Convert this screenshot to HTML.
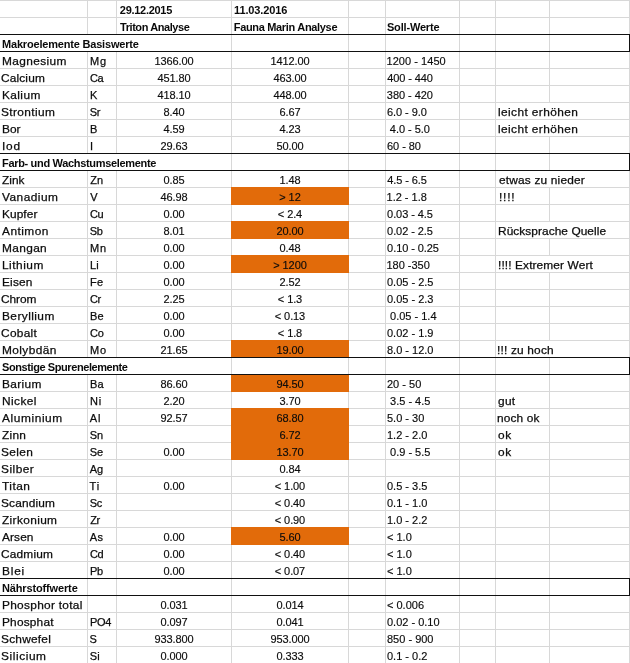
<!DOCTYPE html>
<html lang="de"><head><meta charset="utf-8"><title>Wasseranalyse</title>
<style>
html,body{margin:0;padding:0;background:#fff;}
body{width:630px;height:663px;overflow:hidden;position:relative;font-family:"Liberation Sans",sans-serif;font-size:11px;color:#0a0a0a;}
#s{position:absolute;left:0;top:0;width:630px;height:663px;overflow:hidden;background:#fff;}
.h{position:absolute;left:0;width:630px;height:1px;background:#d8d8d8;}
.v{position:absolute;width:1px;background:#d8d8d8;}
.k{position:absolute;background:#111;}
.o{position:absolute;background:#e26b0a;}
.t{position:absolute;white-space:pre;height:17px;line-height:17px;letter-spacing:0.3px;-webkit-text-stroke:0.25px #111;}
.w{transform:scaleX(1.08);transform-origin:0 50%;}
.n{letter-spacing:-0.1px;text-align:center;-webkit-text-stroke-width:0.15px;}
.f{letter-spacing:0;-webkit-text-stroke-width:0.15px;}
.b{font-weight:bold;letter-spacing:0.1px;-webkit-text-stroke:0;}
</style></head>
<body><div id="s">
<div class="h" style="top:0px"></div><div class="h" style="top:17px"></div><div class="h" style="top:34px"></div><div class="h" style="top:51px"></div><div class="h" style="top:68px"></div><div class="h" style="top:85px"></div><div class="h" style="top:102px"></div><div class="h" style="top:119px"></div><div class="h" style="top:136px"></div><div class="h" style="top:153px"></div><div class="h" style="top:170px"></div><div class="h" style="top:187px"></div><div class="h" style="top:204px"></div><div class="h" style="top:221px"></div><div class="h" style="top:238px"></div><div class="h" style="top:255px"></div><div class="h" style="top:272px"></div><div class="h" style="top:289px"></div><div class="h" style="top:306px"></div><div class="h" style="top:323px"></div><div class="h" style="top:340px"></div><div class="h" style="top:357px"></div><div class="h" style="top:374px"></div><div class="h" style="top:391px"></div><div class="h" style="top:408px"></div><div class="h" style="top:425px"></div><div class="h" style="top:442px"></div><div class="h" style="top:459px"></div><div class="h" style="top:476px"></div><div class="h" style="top:493px"></div><div class="h" style="top:510px"></div><div class="h" style="top:527px"></div><div class="h" style="top:544px"></div><div class="h" style="top:561px"></div><div class="h" style="top:578px"></div><div class="h" style="top:595px"></div><div class="h" style="top:612px"></div><div class="h" style="top:629px"></div><div class="h" style="top:646px"></div><div class="h" style="top:663px"></div>
<div class="v" style="left:87px;top:0px;height:35px"></div><div class="v" style="left:87px;top:51px;height:103px"></div><div class="v" style="left:87px;top:170px;height:188px"></div><div class="v" style="left:87px;top:374px;height:290px"></div><div class="v" style="left:116px;top:0px;height:35px"></div><div class="v" style="left:116px;top:51px;height:103px"></div><div class="v" style="left:116px;top:170px;height:188px"></div><div class="v" style="left:116px;top:374px;height:290px"></div><div class="v" style="left:231px;top:0px;height:664px"></div><div class="v" style="left:348px;top:0px;height:664px"></div><div class="v" style="left:385px;top:0px;height:664px"></div><div class="v" style="left:459px;top:0px;height:664px"></div><div class="v" style="left:495px;top:0px;height:664px"></div><div class="v" style="left:549px;top:0px;height:103px"></div><div class="v" style="left:549px;top:136px;height:35px"></div><div class="v" style="left:549px;top:187px;height:35px"></div><div class="v" style="left:549px;top:238px;height:18px"></div><div class="v" style="left:549px;top:272px;height:69px"></div><div class="v" style="left:549px;top:357px;height:307px"></div><div class="v" style="left:629px;top:0px;height:664px"></div>
<div class="o" style="left:231px;top:187px;width:118px;height:18px"></div><div class="o" style="left:231px;top:221px;width:118px;height:18px"></div><div class="o" style="left:231px;top:255px;width:118px;height:18px"></div><div class="o" style="left:231px;top:340px;width:118px;height:18px"></div><div class="o" style="left:231px;top:374px;width:118px;height:18px"></div><div class="o" style="left:231px;top:408px;width:118px;height:18px"></div><div class="o" style="left:231px;top:425px;width:118px;height:18px"></div><div class="o" style="left:231px;top:442px;width:118px;height:18px"></div><div class="o" style="left:231px;top:527px;width:118px;height:18px"></div>
<div class="k" style="left:0;top:34px;width:630px;height:1px"></div><div class="k" style="left:0;top:51px;width:630px;height:1px"></div><div class="k" style="left:629px;top:34px;width:1px;height:18px"></div><div class="k" style="left:0;top:153px;width:630px;height:1px"></div><div class="k" style="left:0;top:170px;width:630px;height:1px"></div><div class="k" style="left:629px;top:153px;width:1px;height:18px"></div><div class="k" style="left:0;top:357px;width:630px;height:1px"></div><div class="k" style="left:0;top:374px;width:630px;height:1px"></div><div class="k" style="left:629px;top:357px;width:1px;height:18px"></div><div class="k" style="left:0;top:578px;width:630px;height:1px"></div><div class="k" style="left:0;top:595px;width:630px;height:1px"></div><div class="k" style="left:629px;top:578px;width:1px;height:18px"></div>
<div class="t b" id="c0_2" style="left:119.82px;top:2px;letter-spacing:-0.288px;">29.12.2015</div><div class="t b" id="c0_3" style="left:234px;top:2px;letter-spacing:-0.122px;">11.03.2016</div>
<div class="t b" id="c1_2" style="left:119.96px;top:19px;letter-spacing:-0.424px;">Triton Analyse</div><div class="t b" id="c1_3" style="left:233.74px;top:19px;letter-spacing:-0.325px;">Fauna Marin Analyse</div><div class="t b" id="c1_5" style="left:386.94px;top:19px;letter-spacing:-0.172px;">Soll-Werte</div>
<div class="t b" id="c2_0" style="left:2px;top:36px;letter-spacing:-0.19px;">Makroelemente Basiswerte</div>
<div class="t w" id="c3_0" style="left:1.76px;top:53px;letter-spacing:0.343px;">Magnesium</div><div class="t " id="c3_1" style="left:90px;top:53px;letter-spacing:0.75px;">Mg</div><div class="t n" id="c3_2" style="left:117px;top:53px;width:114px;">1366.00</div><div class="t n" id="c3_3" style="left:232px;top:53px;width:116px;">1412.00</div><div class="t f" id="c3_5" style="left:386.53px;top:53px;letter-spacing:0.047px;">1200 - 1450</div>
<div class="t w" id="c4_0" style="left:0.8px;top:70px;letter-spacing:0.137px;">Calcium</div><div class="t " id="c4_1" style="left:89.9px;top:70px;letter-spacing:-0.3px;">Ca</div><div class="t n" id="c4_2" style="left:117px;top:70px;width:114px;">451.80</div><div class="t n" id="c4_3" style="left:232px;top:70px;width:116px;">463.00</div><div class="t f" id="c4_5" style="left:387.22px;top:70px;letter-spacing:-0.118px;">400 - 440</div>
<div class="t w" id="c5_0" style="left:1.76px;top:87px;letter-spacing:0.368px;">Kalium</div><div class="t " id="c5_1" style="left:90px;top:87px;">K</div><div class="t n" id="c5_2" style="left:117px;top:87px;width:114px;">418.10</div><div class="t n" id="c5_3" style="left:232px;top:87px;width:116px;">448.00</div><div class="t f" id="c5_5" style="left:386.84px;top:87px;letter-spacing:-0.052px;">380 - 420</div>
<div class="t w" id="c6_0" style="left:1.04px;top:104px;letter-spacing:0.353px;">Strontium</div><div class="t " id="c6_1" style="left:89.73px;top:104px;letter-spacing:-0.3px;">Sr</div><div class="t n" id="c6_2" style="left:117px;top:104px;width:114px;">8.40</div><div class="t n" id="c6_3" style="left:232px;top:104px;width:116px;">6.67</div><div class="t f" id="c6_5" style="left:386.94px;top:104px;letter-spacing:-0.055px;">6.0 - 9.0</div><div class="t w" id="c6_7" style="left:497.84px;top:104px;letter-spacing:0.372px;">leicht erhöhen</div>
<div class="t w" id="c7_0" style="left:1.52px;top:121px;letter-spacing:-0.006px;">Bor</div><div class="t " id="c7_1" style="left:90px;top:121px;">B</div><div class="t n" id="c7_2" style="left:117px;top:121px;width:114px;">4.59</div><div class="t n" id="c7_3" style="left:232px;top:121px;width:116px;">4.23</div><div class="t f" id="c7_5" style="left:386.82px;top:121px;letter-spacing:-0.034px;"> 4.0 - 5.0</div><div class="t w" id="c7_7" style="left:497.84px;top:121px;letter-spacing:0.372px;">leicht erhöhen</div>
<div class="t w" id="c8_0" style="left:1.76px;top:138px;letter-spacing:0.75px;">Iod</div><div class="t " id="c8_1" style="left:90px;top:138px;">I</div><div class="t n" id="c8_2" style="left:117px;top:138px;width:114px;">29.63</div><div class="t n" id="c8_3" style="left:232px;top:138px;width:116px;">50.00</div><div class="t f" id="c8_5" style="left:387.06px;top:138px;letter-spacing:-0.064px;">60 - 80</div>
<div class="t b" id="c9_0" style="left:2px;top:155px;letter-spacing:-0.323px;">Farb- und Wachstumselemente</div>
<div class="t w" id="c10_0" style="left:2.22px;top:172px;letter-spacing:0.025px;">Zink</div><div class="t " id="c10_1" style="left:90.25px;top:172px;letter-spacing:-0.093px;">Zn</div><div class="t n" id="c10_2" style="left:117px;top:172px;width:114px;">0.85</div><div class="t n" id="c10_3" style="left:232px;top:172px;width:116px;">1.48</div><div class="t f" id="c10_5" style="left:387.29px;top:172px;letter-spacing:-0.098px;">4.5 - 6.5</div><div class="t w" id="c10_7" style="left:498.81px;top:172px;letter-spacing:0.168px;">etwas zu nieder</div>
<div class="t w" id="c11_0" style="left:2.16px;top:189px;letter-spacing:0.436px;">Vanadium</div><div class="t " id="c11_1" style="left:90.24px;top:189px;">V</div><div class="t n" id="c11_2" style="left:117px;top:189px;width:114px;">46.98</div><div class="t n" id="c11_3" style="left:232px;top:189px;width:116px;">&gt; 12</div><div class="t f" id="c11_5" style="left:386.53px;top:189px;letter-spacing:-0.002px;">1.2 - 1.8</div><div class="t w" id="c11_7" style="left:498.6px;top:189px;letter-spacing:0.75px;">!!!!</div>
<div class="t w" id="c12_0" style="left:1.52px;top:206px;letter-spacing:0.073px;">Kupfer</div><div class="t " id="c12_1" style="left:89.9px;top:206px;letter-spacing:-0.3px;">Cu</div><div class="t n" id="c12_2" style="left:117px;top:206px;width:114px;">0.00</div><div class="t n" id="c12_3" style="left:232px;top:206px;width:116px;">&lt; 2.4</div><div class="t f" id="c12_5" style="left:387.11px;top:206px;letter-spacing:-0.085px;">0.03 - 4.5</div>
<div class="t w" id="c13_0" style="left:2.2px;top:223px;letter-spacing:0.434px;">Antimon</div><div class="t " id="c13_1" style="left:89.81px;top:223px;letter-spacing:-0.3px;">Sb</div><div class="t n" id="c13_2" style="left:117px;top:223px;width:114px;">8.01</div><div class="t n" id="c13_3" style="left:232px;top:223px;width:116px;">20.00</div><div class="t f" id="c13_5" style="left:387.11px;top:223px;letter-spacing:-0.085px;">0.02 - 2.5</div><div class="t w" id="c13_7" style="left:498px;top:223px;letter-spacing:0.058px;">Rücksprache Quelle</div>
<div class="t w" id="c14_0" style="left:1.76px;top:240px;letter-spacing:0.328px;">Mangan</div><div class="t " id="c14_1" style="left:90px;top:240px;letter-spacing:0.75px;">Mn</div><div class="t n" id="c14_2" style="left:117px;top:240px;width:114px;">0.00</div><div class="t n" id="c14_3" style="left:232px;top:240px;width:116px;">0.48</div><div class="t f" id="c14_5" style="left:387.11px;top:240px;letter-spacing:-0.075px;">0.10 - 0.25</div>
<div class="t w" id="c15_0" style="left:1.64px;top:257px;letter-spacing:0.475px;">Lithium</div><div class="t " id="c15_1" style="left:90px;top:257px;letter-spacing:0.121px;">Li</div><div class="t n" id="c15_2" style="left:117px;top:257px;width:114px;">0.00</div><div class="t n" id="c15_3" style="left:232px;top:257px;width:116px;">&gt; 1200</div><div class="t f" id="c15_5" style="left:386.53px;top:257px;letter-spacing:-0.02px;">180 -350</div><div class="t w" id="c15_7" style="left:498.3px;top:257px;letter-spacing:0.103px;">!!!! Extremer Wert</div>
<div class="t w" id="c16_0" style="left:1.76px;top:274px;letter-spacing:0.154px;">Eisen</div><div class="t " id="c16_1" style="left:90px;top:274px;letter-spacing:0.402px;">Fe</div><div class="t n" id="c16_2" style="left:117px;top:274px;width:114px;">0.00</div><div class="t n" id="c16_3" style="left:232px;top:274px;width:116px;">2.52</div><div class="t f" id="c16_5" style="left:387px;top:274px;">0.05 - 2.5</div>
<div class="t w" id="c17_0" style="left:0.8px;top:291px;letter-spacing:-0.05px;">Chrom</div><div class="t " id="c17_1" style="left:89.9px;top:291px;letter-spacing:-0.3px;">Cr</div><div class="t n" id="c17_2" style="left:117px;top:291px;width:114px;">2.25</div><div class="t n" id="c17_3" style="left:232px;top:291px;width:116px;">&lt; 1.3</div><div class="t f" id="c17_5" style="left:387px;top:291px;">0.05 - 2.3</div>
<div class="t w" id="c18_0" style="left:1.76px;top:308px;letter-spacing:0.398px;">Beryllium</div><div class="t " id="c18_1" style="left:90px;top:308px;letter-spacing:0.242px;">Be</div><div class="t n" id="c18_2" style="left:117px;top:308px;width:114px;">0.00</div><div class="t n" id="c18_3" style="left:232px;top:308px;width:116px;">&lt; 0.13</div><div class="t f" id="c18_5" style="left:387px;top:308px;"> 0.05 - 1.4</div>
<div class="t w" id="c19_0" style="left:0.8px;top:325px;letter-spacing:0.279px;">Cobalt</div><div class="t " id="c19_1" style="left:90.04px;top:325px;letter-spacing:-0.3px;">Co</div><div class="t n" id="c19_2" style="left:117px;top:325px;width:114px;">0.00</div><div class="t n" id="c19_3" style="left:232px;top:325px;width:116px;">&lt; 1.8</div><div class="t f" id="c19_5" style="left:387px;top:325px;">0.02 - 1.9</div>
<div class="t w" id="c20_0" style="left:1.76px;top:342px;letter-spacing:0.377px;">Molybdän</div><div class="t " id="c20_1" style="left:90px;top:342px;letter-spacing:0.75px;">Mo</div><div class="t n" id="c20_2" style="left:117px;top:342px;width:114px;">21.65</div><div class="t n" id="c20_3" style="left:232px;top:342px;width:116px;">19.00</div><div class="t f" id="c20_5" style="left:387px;top:342px;">8.0 - 12.0</div><div class="t w" id="c20_7" style="left:497px;top:342px;letter-spacing:0.166px;">!!! zu hoch</div>
<div class="t b" id="c21_0" style="left:2.12px;top:359px;letter-spacing:-0.42px;">Sonstige Spurenelemente</div>
<div class="t w" id="c22_0" style="left:1.52px;top:376px;letter-spacing:0.335px;">Barium</div><div class="t " id="c22_1" style="left:90px;top:376px;letter-spacing:0.072px;">Ba</div><div class="t n" id="c22_2" style="left:117px;top:376px;width:114px;">86.60</div><div class="t n" id="c22_3" style="left:232px;top:376px;width:116px;">94.50</div><div class="t f" id="c22_5" style="left:387px;top:376px;">20 - 50</div>
<div class="t w" id="c23_0" style="left:1.76px;top:393px;letter-spacing:0.376px;">Nickel</div><div class="t " id="c23_1" style="left:90px;top:393px;letter-spacing:0.75px;">Ni</div><div class="t n" id="c23_2" style="left:117px;top:393px;width:114px;">2.20</div><div class="t n" id="c23_3" style="left:232px;top:393px;width:116px;">3.70</div><div class="t f" id="c23_5" style="left:387px;top:393px;"> 3.5 - 4.5</div><div class="t w" id="c23_7" style="left:498.15px;top:393px;letter-spacing:0.27px;">gut</div>
<div class="t w" id="c24_0" style="left:1.76px;top:410px;letter-spacing:0.55px;">Aluminium</div><div class="t " id="c24_1" style="left:89.82px;top:410px;letter-spacing:0.75px;">Al</div><div class="t n" id="c24_2" style="left:117px;top:410px;width:114px;">92.57</div><div class="t n" id="c24_3" style="left:232px;top:410px;width:116px;">68.80</div><div class="t f" id="c24_5" style="left:387px;top:410px;">5.0 - 30</div><div class="t w" id="c24_7" style="left:497px;top:410px;letter-spacing:0.133px;">noch ok</div>
<div class="t w" id="c25_0" style="left:2.18px;top:427px;letter-spacing:0.269px;">Zinn</div><div class="t " id="c25_1" style="left:89.73px;top:427px;letter-spacing:-0.06px;">Sn</div><div class="t n" id="c25_3" style="left:232px;top:427px;width:116px;">6.72</div><div class="t f" id="c25_5" style="left:387px;top:427px;">1.2 - 2.0</div><div class="t w" id="c25_7" style="left:498.45px;top:427px;letter-spacing:0.679px;">ok</div>
<div class="t w" id="c26_0" style="left:0.92px;top:444px;letter-spacing:0.343px;">Selen</div><div class="t " id="c26_1" style="left:89.77px;top:444px;letter-spacing:-0.173px;">Se</div><div class="t n" id="c26_2" style="left:117px;top:444px;width:114px;">0.00</div><div class="t n" id="c26_3" style="left:232px;top:444px;width:116px;">13.70</div><div class="t f" id="c26_5" style="left:387px;top:444px;"> 0.9 - 5.5</div><div class="t w" id="c26_7" style="left:498.45px;top:444px;letter-spacing:0.679px;">ok</div>
<div class="t w" id="c27_0" style="left:0.92px;top:461px;letter-spacing:0.44px;">Silber</div><div class="t " id="c27_1" style="left:89.82px;top:461px;letter-spacing:-0.091px;">Ag</div><div class="t n" id="c27_3" style="left:232px;top:461px;width:116px;">0.84</div>
<div class="t w" id="c28_0" style="left:2.04px;top:478px;letter-spacing:0.46px;">Titan</div><div class="t " id="c28_1" style="left:89.58px;top:478px;letter-spacing:0.75px;">Ti</div><div class="t n" id="c28_2" style="left:117px;top:478px;width:114px;">0.00</div><div class="t n" id="c28_3" style="left:232px;top:478px;width:116px;">&lt; 1.00</div><div class="t f" id="c28_5" style="left:387px;top:478px;">0.5 - 3.5</div>
<div class="t w" id="c29_0" style="left:1.16px;top:495px;letter-spacing:0.154px;">Scandium</div><div class="t " id="c29_1" style="left:89.73px;top:495px;letter-spacing:-0.3px;">Sc</div><div class="t n" id="c29_3" style="left:232px;top:495px;width:116px;">&lt; 0.40</div><div class="t f" id="c29_5" style="left:387px;top:495px;">0.1 - 1.0</div>
<div class="t w" id="c30_0" style="left:2.18px;top:512px;letter-spacing:0.33px;">Zirkonium</div><div class="t " id="c30_1" style="left:90.18px;top:512px;letter-spacing:-0.3px;">Zr</div><div class="t n" id="c30_3" style="left:232px;top:512px;width:116px;">&lt; 0.90</div><div class="t f" id="c30_5" style="left:387px;top:512px;">1.0 - 2.2</div>
<div class="t w" id="c31_0" style="left:1.76px;top:529px;letter-spacing:0.098px;">Arsen</div><div class="t " id="c31_1" style="left:89.82px;top:529px;letter-spacing:0.33px;">As</div><div class="t n" id="c31_2" style="left:117px;top:529px;width:114px;">0.00</div><div class="t n" id="c31_3" style="left:232px;top:529px;width:116px;">5.60</div><div class="t f" id="c31_5" style="left:387px;top:529px;">&lt; 1.0</div>
<div class="t w" id="c32_0" style="left:0.92px;top:546px;letter-spacing:0.159px;">Cadmium</div><div class="t " id="c32_1" style="left:89.9px;top:546px;letter-spacing:-0.3px;">Cd</div><div class="t n" id="c32_2" style="left:117px;top:546px;width:114px;">0.00</div><div class="t n" id="c32_3" style="left:232px;top:546px;width:116px;">&lt; 0.40</div><div class="t f" id="c32_5" style="left:387px;top:546px;">&lt; 1.0</div>
<div class="t w" id="c33_0" style="left:1.76px;top:563px;letter-spacing:0.75px;">Blei</div><div class="t " id="c33_1" style="left:90px;top:563px;letter-spacing:-0.3px;">Pb</div><div class="t n" id="c33_2" style="left:117px;top:563px;width:114px;">0.00</div><div class="t n" id="c33_3" style="left:232px;top:563px;width:116px;">&lt; 0.07</div><div class="t f" id="c33_5" style="left:387px;top:563px;">&lt; 1.0</div>
<div class="t b" id="c34_0" style="left:1.88px;top:580px;letter-spacing:-0.133px;">Nährstoffwerte</div>
<div class="t w" id="c35_0" style="left:1.76px;top:597px;letter-spacing:0.267px;">Phosphor total</div><div class="t n" id="c35_2" style="left:117px;top:597px;width:114px;">0.031</div><div class="t n" id="c35_3" style="left:232px;top:597px;width:116px;">0.014</div><div class="t f" id="c35_5" style="left:387px;top:597px;">&lt; 0.006</div>
<div class="t w" id="c36_0" style="left:1.52px;top:614px;letter-spacing:0.171px;">Phosphat</div><div class="t " id="c36_1" style="left:90px;top:614px;letter-spacing:-0.3px;">PO4</div><div class="t n" id="c36_2" style="left:117px;top:614px;width:114px;">0.097</div><div class="t n" id="c36_3" style="left:232px;top:614px;width:116px;">0.041</div><div class="t f" id="c36_5" style="left:387px;top:614px;">0.02 - 0.10</div>
<div class="t w" id="c37_0" style="left:1.04px;top:631px;letter-spacing:0.215px;">Schwefel</div><div class="t " id="c37_1" style="left:89.57px;top:631px;">S</div><div class="t n" id="c37_2" style="left:117px;top:631px;width:114px;">933.800</div><div class="t n" id="c37_3" style="left:232px;top:631px;width:116px;">953.000</div><div class="t f" id="c37_5" style="left:387px;top:631px;">850 - 900</div>
<div class="t w" id="c38_0" style="left:1.04px;top:648px;letter-spacing:0.538px;">Silicium</div><div class="t " id="c38_1" style="left:89.73px;top:648px;letter-spacing:0.152px;">Si</div><div class="t n" id="c38_2" style="left:117px;top:648px;width:114px;">0.000</div><div class="t n" id="c38_3" style="left:232px;top:648px;width:116px;">0.333</div><div class="t f" id="c38_5" style="left:387px;top:648px;">0.1 - 0.2</div>
</div></body></html>
